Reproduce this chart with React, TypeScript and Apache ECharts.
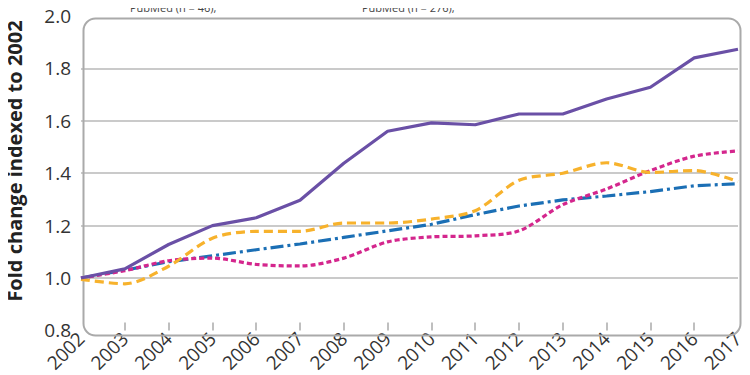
import React, { useEffect, useRef } from "react";
import * as echarts from "echarts";

const years = ["2002","2003","2004","2005","2006","2007","2008","2009","2010","2011","2012","2013","2014","2015","2016","2017"];
const purpleValues = [1.0, 1.035, 1.128, 1.2, 1.23, 1.297, 1.438, 1.56, 1.592, 1.585, 1.626, 1.626, 1.683, 1.728, 1.84, 1.873];
const orangeValues = [0.995, 0.978, 1.045, 1.152, 1.178, 1.178, 1.21, 1.21, 1.225, 1.257, 1.373, 1.4, 1.44, 1.403, 1.41, 1.368];
const blueValues = [1.0, 1.03, 1.062, 1.085, 1.108, 1.13, 1.155, 1.18, 1.205, 1.242, 1.275, 1.298, 1.313, 1.33, 1.352, 1.36];
const magentaValues = [1.0, 1.028, 1.066, 1.076, 1.052, 1.046, 1.076, 1.138, 1.157, 1.161, 1.18, 1.28, 1.34, 1.41, 1.465, 1.485];
const legendTexts = ["PubMed (n = 46),", "PubMed (n = 276),"];
const yTitle = "Fold change indexed to 2002";

export default function App() {
  const ref = useRef<HTMLDivElement>(null);
  useEffect(() => {
    if (!ref.current) return;
    const chart = echarts.init(ref.current, null, { renderer: "svg" });
    const font = "'Open Sans', 'Noto Sans', sans-serif";
    const mk = (data: number[], color: string, type: any, smooth: number | boolean, z: number) => ({
      type: "line",
      data,
      symbol: "none",
      smooth,
      z,
      lineStyle: { color, width: 3.2, type },
    });
    chart.setOption({
      animation: false,
      backgroundColor: "#ffffff",
      grid: { left: 81, right: 12, top: 16, bottom: 42 },
      xAxis: {
        type: "category",
        data: years,
        boundaryGap: false,
        axisLine: { show: false },
        axisTick: {
          show: true,
          inside: true,
          length: 8,
          interval: (i: number) => i > 0 && i < years.length - 1,
          lineStyle: { color: "#aaaaaa", width: 1.5 },
        },
        axisLabel: {
          rotate: 45,
          fontSize: 19,
          color: "#333333",
          fontFamily: font,
          margin: 5,
          interval: 0,
        },
        splitLine: { show: false },
      },
      yAxis: {
        type: "value",
        min: 0.8,
        max: 2.0,
        interval: 0.2,
        axisLine: { show: false },
        axisTick: { show: false },
        axisLabel: {
          fontSize: 19,
          color: "#333333",
          fontFamily: font,
          margin: 10,
          formatter: (v: number) => v.toFixed(1),
        },
        splitLine: {
          show: true,
          showMinLine: false,
          showMaxLine: false,
          lineStyle: { color: "#b8b8b8", width: 1.6 },
        },
      },
      graphic: [
        {
          type: "rect",
          left: 81,
          top: 16,
          shape: { x: 0, y: 0, width: 657, height: 317, r: 12 },
          style: { fill: "none", stroke: "#aaaaaa", lineWidth: 2 },
          z: 1,
          silent: true,
        },
        {
          type: "text",
          x: 14,
          y: 161,
          rotation: Math.PI / 2,
          style: {
            text: yTitle,
            font: "bold 20px 'Open Sans', 'Noto Sans', sans-serif",
            fill: "#222222",
            align: "center",
            verticalAlign: "middle",
          },
        },
        {
          type: "text",
          x: 130,
          y: 2,
          style: {
            text: legendTexts[0],
            font: "11px 'Open Sans', 'Noto Sans', sans-serif",
            fill: "#444444",
            align: "left",
            verticalAlign: "top",
          },
        },
        {
          type: "text",
          x: 362,
          y: 2,
          style: {
            text: legendTexts[1],
            font: "11px 'Open Sans', 'Noto Sans', sans-serif",
            fill: "#444444",
            align: "left",
            verticalAlign: "top",
          },
        },
      ],
      series: [
        mk(blueValues, "#1b6fb5", [13, 4, 3, 4], false, 3),
        mk(magentaValues, "#d4268d", [5, 3], 0.3, 4),
        mk(orangeValues, "#f7b22c", [9, 5], 0.3, 5),
        mk(purpleValues, "#6a50a6", "solid", false, 6),
      ],
    });
    return () => chart.dispose();
  }, []);
  return <div ref={ref} style={{ width: 750, height: 375, marginLeft: -8, marginTop: -8 }} />;
}
